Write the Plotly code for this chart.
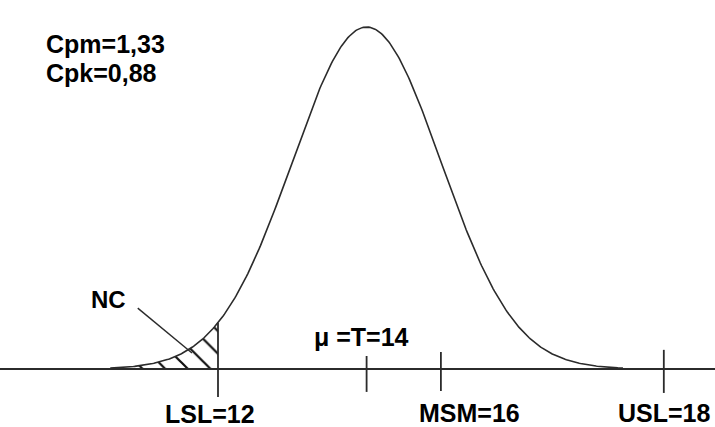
import numpy as np
import plotly.graph_objects as go

# Process parameters
MEAN = 14.0
SIGMA = 1.0
TAIL_Z = 3.45            # curve drawn to about +/-3.45 sigma
cap_labels = ["Cpm=1,33", "Cpk=0,88"]

# Specification marks along the axis
mark_names = ["LSL=12", "\u03bc =T=14", "MSM=16", "USL=18"]
mark_pos = [12.0, 14.0, 15.0, 18.0]
LSL = 12.0

# Curve
xc = np.linspace(MEAN - TAIL_Z * SIGMA, MEAN + TAIL_Z * SIGMA, 400)
yc = np.exp(-0.5 * ((xc - MEAN) / SIGMA) ** 2)

# Non-conforming tail below LSL
xt = xc[xc <= LSL]
xt = np.append(xt, LSL)
yt = np.exp(-0.5 * ((xt - MEAN) / SIGMA) ** 2)

LINE = "#2b2b2b"
FONT = dict(family="Liberation Sans, Arial, sans-serif", size=25, color="black",
            weight="bold")

fig = go.Figure()

# hatched tail
fig.add_trace(go.Scatter(
    x=xt, y=yt, mode="lines", line=dict(width=0, color=LINE),
    fill="tozeroy", fillcolor="rgba(0,0,0,0)",
    fillpattern=dict(shape="\\", size=16, solidity=0.14, fgcolor="#111111",
                     bgcolor="white", fgopacity=1),
    hoverinfo="skip", showlegend=False))

# curve
fig.add_trace(go.Scatter(x=xc, y=yc, mode="lines",
                         line=dict(color=LINE, width=1.6),
                         hoverinfo="skip", showlegend=False))

# baseline
fig.add_shape(type="line", xref="paper", yref="y", x0=0, x1=1, y0=0, y1=0,
              line=dict(color=LINE, width=2))

# ticks (LSL tick rises to the curve)
tick_top = [float(np.exp(-0.5 * ((LSL - MEAN) / SIGMA) ** 2)), 0.038, 0.05, 0.056]
tick_bot = [-0.082, -0.067, -0.064, -0.070]
for p, t, b in zip(mark_pos, tick_top, tick_bot):
    fig.add_shape(type="line", x0=p, x1=p, y0=b, y1=t,
                  line=dict(color=LINE, width=1.8))

# NC leader line
fig.add_shape(type="line", x0=10.92, y0=0.178, x1=11.65, y1=0.047,
              line=dict(color=LINE, width=1.4))

# bottom labels
label_shift = [-8, -5, 29, 1]
label_y = [-0.132, 0.094, -0.129, -0.129]
for name, p, dx, yy in zip(mark_names, mark_pos, label_shift, label_y):
    fig.add_annotation(x=p, y=yy, text=name, showarrow=False, xshift=dx,
                       xanchor="center", yanchor="middle", font=FONT)

fig.add_annotation(x=10.52, y=0.202, text="NC", showarrow=False,
                   xanchor="center", yanchor="middle",
                   font=dict(family=FONT["family"], size=24, color="black",
                             weight="bold"))

for i, t in enumerate(cap_labels):
    fig.add_annotation(xref="paper", yref="paper", x=44 / 715,
                       y=1 - (44 + 29 * i) / 427, text=t, showarrow=False,
                       xanchor="left", yanchor="middle",
                       font=dict(family=FONT["family"], size=25, color="black",
                                 weight="bold"))

fig.update_layout(
    width=715, height=427, autosize=False,
    margin=dict(l=0, r=0, t=0, b=0),
    paper_bgcolor="white", plot_bgcolor="white",
    xaxis=dict(range=[9.066, 18.689], visible=False, fixedrange=True),
    yaxis=dict(range=[-0.1696, 1.079], visible=False, fixedrange=True),
    showlegend=False,
)

fig.write_html("out.html", config={"displayModeBar": False},
               post_script="document.body.style.margin='0';document.body.style.padding='0';")
